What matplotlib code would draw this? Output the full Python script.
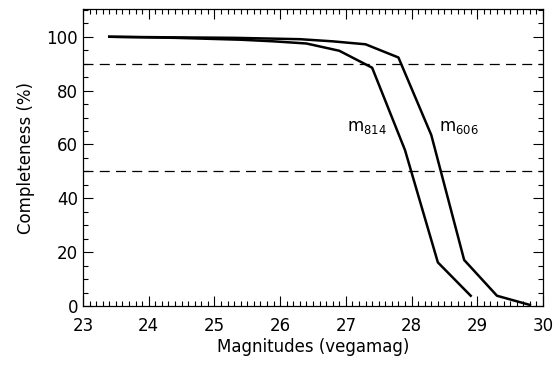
import matplotlib
matplotlib.use("Agg")
import matplotlib.pyplot as plt
from matplotlib.ticker import MultipleLocator

mag606 = [23.4, 24.3, 25.3, 26.3, 26.8, 27.3, 27.8, 28.3, 28.8, 29.3, 29.8]
comp606 = [100.0, 99.8, 99.6, 99.1, 98.3, 97.2, 92.3, 63.5, 17.1, 3.8, 0.4]
mag814 = [23.4, 24.4, 25.4, 25.9, 26.4, 26.9, 27.4, 27.9, 28.4, 28.9]
comp814 = [100.0, 99.6, 98.9, 98.3, 97.5, 94.8, 88.5, 57.9, 16.2, 3.8]
levels = [90, 50]
labels = [r"$\mathregular{m_{814}}$", r"$\mathregular{m_{606}}$"]
label_pos = [(27.02, 65), (28.42, 65)]

plt.rcParams['font.family'] = ['DejaVu Sans']
fig = plt.figure(figsize=(5.6, 3.66), dpi=100)
ax = fig.add_axes([83/560, 1-306/366, (543-83)/560, (306-9.3)/366])

for lv in levels:
    ax.axhline(lv, color='black', lw=0.9, ls=(0, (8, 5)))
ax.plot(mag606, comp606, color='black', lw=1.8)
ax.plot(mag814, comp814, color='black', lw=1.8)
for t, (x, y) in zip(labels, label_pos):
    ax.text(x, y, t, fontsize=12, color='black')

ax.set_xlim(23, 30)
ax.set_ylim(0, 110.2)
ax.xaxis.set_major_locator(MultipleLocator(1))
ax.xaxis.set_minor_locator(MultipleLocator(0.1))
ax.yaxis.set_major_locator(MultipleLocator(20))
ax.yaxis.set_minor_locator(MultipleLocator(5))
ax.tick_params(which='both', direction='in', top=True, right=True, labelsize=12, colors='black')
ax.tick_params(which='major', length=7, width=0.8)
ax.tick_params(which='minor', length=3.5, width=0.8)
ax.tick_params(axis='x', pad=8)
for s in ax.spines.values():
    s.set_linewidth(0.9)
ax.set_xlabel('Magnitudes (vegamag)', fontsize=12, labelpad=2)
ax.set_ylabel('Completeness (%)', fontsize=12, labelpad=8)

fig.savefig('out.png', dpi=100)
